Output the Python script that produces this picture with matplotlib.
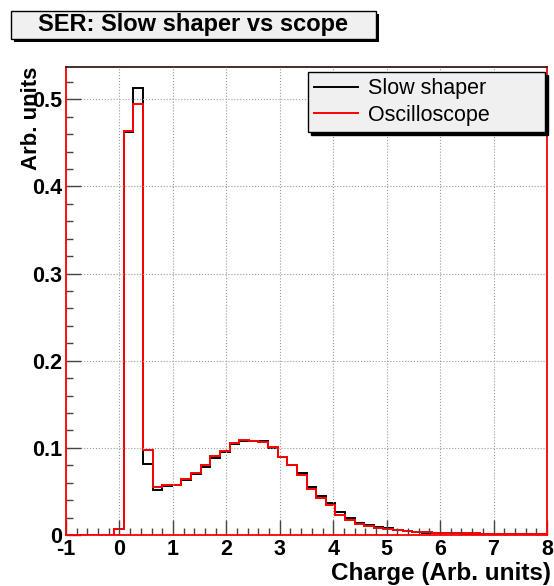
import numpy as np
import matplotlib.pyplot as plt
from matplotlib.patches import Rectangle
from matplotlib.ticker import MultipleLocator, FuncFormatter

plt.rcParams['font.family'] = ['Liberation Sans', 'DejaVu Sans']
plt.rcParams['axes.unicode_minus'] = False

# 50 bins between -1 and 8
edges = np.linspace(-1, 8, 51)

slow_shaper = [0, 0, 0, 0, 0, 0.0065, 0.462, 0.513, 0.0815, 0.052,
               0.0565, 0.057, 0.063, 0.070, 0.078, 0.0888, 0.095, 0.104, 0.108, 0.1075,
               0.1075, 0.100, 0.089, 0.080, 0.071, 0.055, 0.045, 0.0364, 0.0268, 0.019,
               0.0134, 0.011, 0.0088, 0.0075, 0.0055, 0.0048, 0.004, 0.0025, 0.0022, 0.002,
               0.0018, 0.0017, 0.0015, 0.0014, 0.0013, 0.0012, 0.0010, 0.0010, 0.0009, 0.0008]
oscilloscope = [0, 0, 0, 0, 0, 0.0065, 0.463, 0.494, 0.098, 0.0555,
                0.057, 0.057, 0.064, 0.0715, 0.080, 0.0907, 0.0964, 0.105, 0.109, 0.1075,
                0.107, 0.101, 0.089, 0.080, 0.069, 0.053, 0.043, 0.0344, 0.023, 0.0172,
                0.0126, 0.0103, 0.008, 0.0066, 0.0058, 0.0048, 0.0036, 0.003, 0.0026, 0.0024,
                0.0022, 0.002, 0.0018, 0.0016, 0.0015, 0.0014, 0.0012, 0.0011, 0.001, 0.0009]

W, H = 554, 586
fig = plt.figure(figsize=(W / 100, H / 100), dpi=100)
ax = fig.add_axes([66 / W, 1 - 535 / H, (547 - 66) / W, (535 - 67) / H])

ax.stairs(slow_shaper, edges, color='black', lw=1.4, label='Slow shaper')
ax.stairs(oscilloscope, edges, color='red', lw=1.4, label='Oscilloscope')

ax.set_xlim(-1, 8)
ax.set_ylim(0, 0.537)
ax.xaxis.set_major_locator(MultipleLocator(1))
ax.xaxis.set_minor_locator(MultipleLocator(0.2))
ax.yaxis.set_major_locator(MultipleLocator(0.1))
ax.yaxis.set_minor_locator(MultipleLocator(0.02))
ax.xaxis.set_major_formatter(FuncFormatter(lambda v, _: '%d' % round(v)))
ax.yaxis.set_major_formatter(FuncFormatter(lambda v, _: '0' if abs(v) < 1e-9 else '%.1f' % v))
ax.tick_params(which='both', direction='in', top=False, right=False, color='#444444',
               labelsize=15.5, width=1)
ax.tick_params(which='major', length=11, pad=3)
ax.tick_params(which='minor', length=5)
for lab in ax.get_xticklabels() + ax.get_yticklabels():
    lab.set_fontweight('bold')
ax.grid(True, which='major', ls=':', color='#999999', lw=0.8)

for side in ['left', 'right', 'bottom']:
    ax.spines[side].set_color('red')
ax.spines['top'].set_color('#3a1a1a')
for sp in ax.spines.values():
    sp.set_linewidth(1.3)

ax.set_xlabel('Charge (Arb. units)', fontsize=17.5, fontweight='bold', loc='right')
ax.xaxis.set_label_coords((551 - 66) / 481, (535 - 562) / 468)
ax.set_ylabel('Arb. units', fontsize=16, fontweight='bold', loc='top')
ax.yaxis.set_label_coords((42 - 66) / 481, 1.0)

leg = ax.legend(loc='upper left', bbox_to_anchor=(308 / W, 1 - 72 / H, 237 / W, 0),
                bbox_transform=fig.transFigure, mode='expand', borderaxespad=0,
                fontsize=15.5, fancybox=False, edgecolor='black', facecolor='#f0f0f0',
                framealpha=1, shadow={'color': 'black', 'alpha': 1},
                handlelength=2.0, handletextpad=0.5, labelspacing=0.25, borderpad=0.3)
leg.get_frame().set_linewidth(1)

# title box with shadow, ROOT style
fig.add_artist(Rectangle((14 / W, 1 - 42 / H), 365 / W, 28 / H, transform=fig.transFigure,
                         facecolor='black', edgecolor='none'))
fig.add_artist(Rectangle((11 / W, 1 - 39 / H), 365 / W, 28 / H, transform=fig.transFigure,
                         facecolor='#f0f0f0', edgecolor='black', lw=1))
fig.text(193.5 / W, 1 - 25 / H, 'SER: Slow shaper vs scope', fontsize=17, fontweight='bold',
         ha='center', va='center')

fig.savefig('out.png', dpi=100)
